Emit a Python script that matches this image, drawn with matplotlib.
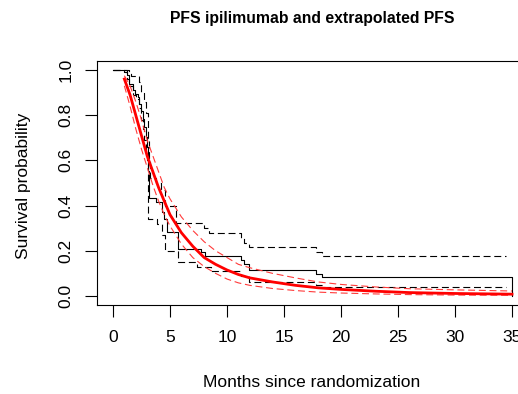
import matplotlib
matplotlib.use("Agg")
import matplotlib.pyplot as plt

plt.rcParams['font.family'] = ['Liberation Sans', 'DejaVu Sans']
plt.rcParams['lines.scale_dashes'] = False

# Kaplan-Meier estimate (step function) and its 95% CI
km_t = [0, 1.2, 1.43, 1.72, 1.95, 2.16, 2.3, 2.45, 2.6, 2.74, 2.89, 2.97, 3.03, 3.07, 3.12,
        3.76, 4.3, 4.5, 4.78, 5.7, 7.7, 8.1, 11.2, 11.5, 11.9, 17.8, 18.3, 35.0]
km_s = [1.0, 0.978, 0.94, 0.91, 0.895, 0.88, 0.85, 0.82, 0.785, 0.75, 0.705, 0.66, 0.615, 0.555, 0.432,
        0.415, 0.37, 0.34, 0.285, 0.21, 0.196, 0.177, 0.16, 0.14, 0.115, 0.097, 0.083, 0.0]

up_t = [0, 1.43, 1.6, 2.3, 2.5, 2.74, 2.9, 3.03, 3.1, 3.2, 3.25, 3.8, 4.2, 4.6, 5.5,
        8.0, 8.4, 11.2, 11.5, 11.9, 17.8, 18.3, 34.5]
up_s = [1.0, 0.99, 0.975, 0.945, 0.90, 0.86, 0.81, 0.77, 0.70, 0.60, 0.52, 0.50, 0.47, 0.40, 0.325,
        0.30, 0.278, 0.255, 0.235, 0.215, 0.195, 0.177, 0.177]

lo_t = [0, 1.0, 1.2, 1.43, 1.72, 2.0, 2.3, 2.45, 2.6, 2.74, 2.89, 2.97, 3.03, 3.1, 3.9,
        4.3, 4.6, 5.7, 7.4, 8.6, 11.2, 11.9, 17.8, 18.3, 34.5]
lo_s = [1.0, 0.99, 0.96, 0.93, 0.89, 0.87, 0.83, 0.78, 0.74, 0.69, 0.64, 0.60, 0.55, 0.34, 0.32,
        0.27, 0.20, 0.15, 0.13, 0.11, 0.09, 0.06, 0.048, 0.038, 0.038]

# Extrapolated (parametric) PFS and its CI
fit_t = [1.0, 1.5, 2.0, 2.5, 3.0, 3.5, 4.0, 4.5, 5.0, 6.0, 7.0, 8.0, 9.0, 10.0, 11.0, 12.0,
         14.0, 16.0, 18.0, 20.0, 23.0, 26.0, 30.0, 35.0]
fit_s = [0.96, 0.89, 0.80, 0.71, 0.62, 0.55, 0.48, 0.42, 0.36, 0.28, 0.22, 0.17, 0.14, 0.115, 0.095, 0.08,
         0.062, 0.047, 0.036, 0.029, 0.021, 0.015, 0.011, 0.008]
fit_up = [0.975, 0.93, 0.86, 0.78, 0.69, 0.62, 0.55, 0.48, 0.43, 0.35, 0.29, 0.24, 0.20, 0.17, 0.14, 0.125,
          0.10, 0.08, 0.062, 0.051, 0.040, 0.032, 0.027, 0.022]
fit_lo = [0.93, 0.84, 0.74, 0.65, 0.57, 0.49, 0.42, 0.36, 0.31, 0.23, 0.17, 0.13, 0.10, 0.075, 0.058, 0.047,
          0.033, 0.024, 0.017, 0.013, 0.009, 0.006, 0.004, 0.003]

x_ticks = [0, 5, 10, 15, 20, 25, 30, 35]
y_ticks = [0.0, 0.2, 0.4, 0.6, 0.8, 1.0]
y_labels = ["0.0", "0.2", "0.4", "0.6", "0.8", "1.0"]

W, H = 518, 394
fig = plt.figure(figsize=(W / 100, H / 100), dpi=100)
ax = fig.add_axes([97 / W, 1 - 305 / H, (528 - 97) / W, (305 - 61) / H])

dash = (0, (5, 2.7))
ax.step(km_t, km_s, where='post', color='black', lw=0.8)
ax.step(up_t, up_s, where='post', color='black', lw=0.8, ls=dash)
ax.step(lo_t, lo_s, where='post', color='black', lw=0.8, ls=dash)

ax.plot(fit_t, fit_up, color='#ff3a3a', lw=0.8, ls=dash)
ax.plot(fit_t, fit_lo, color='#ff3a3a', lw=0.8, ls=dash)
ax.plot(fit_t, fit_s, color='red', lw=2.0)

ax.set_xlim(-1.4, 36.4)
ax.set_ylim(-0.04, 1.04)
ax.set_xticks(x_ticks)
ax.set_yticks(y_ticks)
ax.set_yticklabels(y_labels, rotation=90, va='center')

for s in ax.spines.values():
    s.set_linewidth(0.8)
ax.tick_params(direction='out', length=8.5, width=0.8, labelsize=12.5)
ax.tick_params(axis='x', pad=9.5)
ax.tick_params(axis='y', pad=8.5)

ax.set_xlabel("Months since randomization", fontsize=12.5)
ax.xaxis.set_label_coords(0.499, -0.316)
ax.xaxis.label.set_va('center')
ax.set_ylabel("Survival probability", fontsize=12.5)
ax.yaxis.set_label_coords(-0.1715, 0.49)
ax.yaxis.label.set_va('center')

fig.text(312 / W, 1 - 19 / H, "PFS ipilimumab and extrapolated PFS",
         ha='center', va='center', fontsize=11.3, fontweight='bold')

fig.savefig("out.png", dpi=100)
